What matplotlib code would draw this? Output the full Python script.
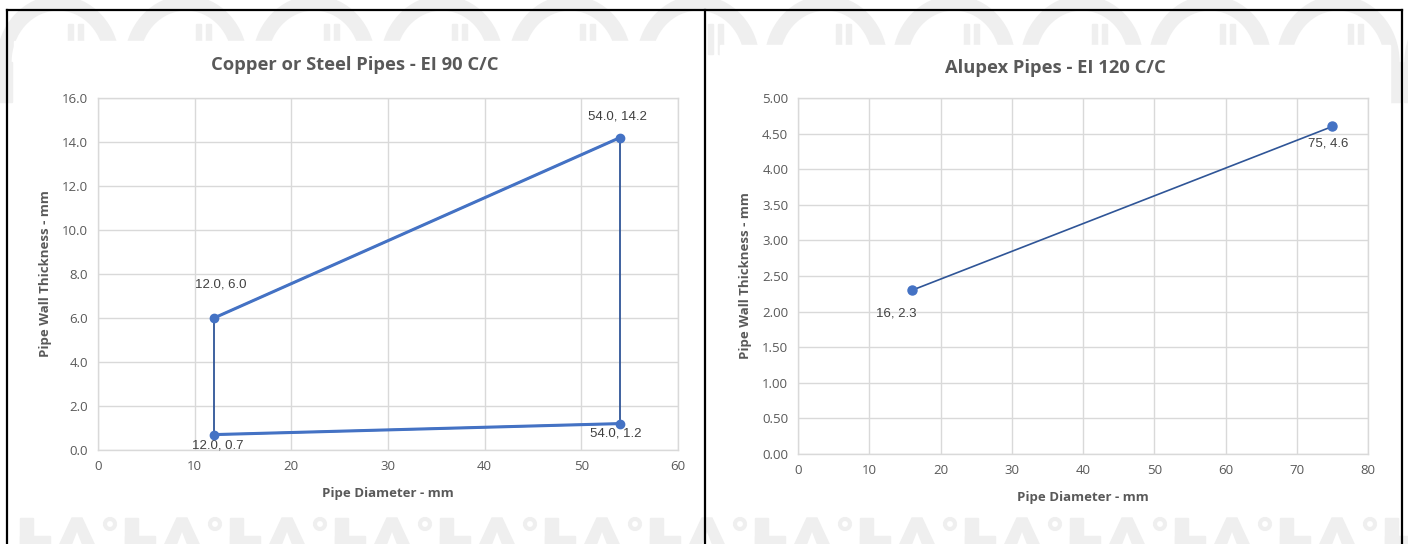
import matplotlib.pyplot as plt
from matplotlib.patches import Rectangle, Arc, Polygon
from matplotlib.lines import Line2D
import numpy as np

# Copper / steel envelope: corner points of the approved zone
cu_diam = [12.0, 12.0, 54.0, 54.0]
cu_wall = [0.7, 6.0, 14.2, 1.2]
cu_offsets = [(3, -8), (5, 24), (-2, 15), (-3, -7)]

# Alupex range
alu_diam = [16, 75]
alu_wall = [2.3, 4.6]
alu_offsets = [(-11, -17), (-3, -12)]

W, H = 1408, 544
BLUE = '#4472C4'
DARK_BLUE = '#2F5597'
TXT = '#595959'
GRID = '#D9D9D9'
WM = '#EFEFEF'
FONT = 'Open Sans'
LABEL_FONT = 'Liberation Sans'


def fx(px):
    return px / W


def fy(py):
    return 1 - py / H


fig = plt.figure(figsize=(W / 100, H / 100), dpi=100)
fig.patch.set_facecolor('white')

# faint background pattern behind the chart panels (y axis points down)
bg = fig.add_axes([0, 0, 1, 1], zorder=-10)
bg.set_xlim(0, W)
bg.set_ylim(H, 0)
bg.axis('off')
for cx in np.arange(58, W + 100, 128):
    bg.add_patch(Arc((cx, 62), 108, 118, theta1=180, theta2=360, color=WM, lw=11))
    bg.add_patch(Rectangle((cx - 54 - 8, 62), 16, 40, color=WM))
    bg.add_patch(Rectangle((cx + 54 - 8, 62), 16, 40, color=WM))
    bg.add_patch(Rectangle((cx + 10, 24), 5, 30, color=WM))
    bg.add_patch(Rectangle((cx + 20, 24), 5, 30, color=WM))
# letter-like blocks along the bottom edge
for lx in np.arange(20, W, 105):
    bg.add_patch(Rectangle((lx, 518), 13, 30, color=WM))
    bg.add_patch(Rectangle((lx, 536), 30, 10, color=WM))
    bg.add_patch(Polygon([(lx + 38, 548), (lx + 52, 518), (lx + 62, 518),
                          (lx + 76, 548), (lx + 64, 548), (lx + 57, 530),
                          (lx + 50, 548)], closed=True, color=WM))
    bg.add_patch(Arc((lx + 90, 524), 10, 10, color=WM, lw=3))

# white chart panels
fig.patches.append(Rectangle((fx(14), fy(515)), fx(697 - 14), (515 - 41) / H,
                             transform=fig.transFigure, color='white', zorder=-5))
fig.patches.append(Rectangle((fx(720), fy(515)), fx(1390 - 720), (515 - 45) / H,
                             transform=fig.transFigure, color='white', zorder=-5))

# black frame around both charts
for xs, ys in [((7, 1402), (9.5, 9.5)), ((7, 7), (9.5, H)),
               ((705, 705), (9.5, H)), ((1402, 1402), (9.5, H))]:
    fig.add_artist(Line2D([fx(x) for x in xs], [fy(y) for y in ys],
                          transform=fig.transFigure, color='black', lw=1.6))


def style_axes(ax, xmax, ymax, ystep, yfmt):
    ax.set_xlim(0, xmax)
    ax.set_ylim(0, ymax)
    ax.set_xticks(np.arange(0, xmax + 1, 10))
    yt = np.arange(0, ymax + ystep / 2, ystep)
    ax.set_yticks(yt)
    ax.set_yticklabels([yfmt.format(v) for v in yt])
    ax.grid(True, color=GRID, lw=1)
    ax.set_axisbelow(True)
    for s in ax.spines.values():
        s.set_color(GRID)
        s.set_linewidth(1)
    ax.tick_params(length=0, pad=7, labelsize=9.5, labelcolor=TXT)
    for lbl in ax.get_xticklabels() + ax.get_yticklabels():
        lbl.set_family(FONT)
    ax.set_xlabel('Pipe Diameter - mm', fontsize=9.5, fontweight='bold',
                  color=TXT, family=FONT, labelpad=10)
    ax.set_ylabel('Pipe Wall Thickness - mm', fontsize=9.5, fontweight='bold',
                  color=TXT, family=FONT, labelpad=7)
    ax.patch.set_alpha(0)


# left chart
ax1 = fig.add_axes([fx(98), fy(450), fx(678 - 98), (450 - 98) / H])
style_axes(ax1, 60, 16, 2, '{:.1f}')
ax1.set_title('Copper or Steel Pipes - EI 90 C/C', fontsize=13.2, fontweight='bold',
              color=TXT, family=FONT, pad=20, x=0.443)
# closed outline of the zone
ax1.plot(cu_diam + cu_diam[:1], cu_wall + cu_wall[:1], color=DARK_BLUE, lw=1.3,
         zorder=2)
# upper and lower limits drawn heavier
ax1.plot(cu_diam[1:3], cu_wall[1:3], color=BLUE, lw=2.2, zorder=3)
ax1.plot([cu_diam[0], cu_diam[3]], [cu_wall[0], cu_wall[3]], color=BLUE, lw=2.2,
         zorder=3)
ax1.plot(cu_diam, cu_wall, 'o', color=BLUE, ms=6, zorder=4)
for x, y, off in zip(cu_diam, cu_wall, cu_offsets):
    ax1.annotate(f'{x:.1f}, {y:.1f}', (x, y), xytext=off, textcoords='offset points',
                 ha='center', va='center', fontsize=9.5, color='#404040',
                 family=LABEL_FONT)

# right chart
ax2 = fig.add_axes([fx(798), fy(454), fx(1368 - 798), (454 - 98) / H])
style_axes(ax2, 80, 5, 0.5, '{:.2f}')
ax2.set_title('Alupex Pipes - EI 120 C/C', fontsize=13.2, fontweight='bold',
              color=TXT, family=FONT, pad=18, x=0.451)
ax2.plot(alu_diam, alu_wall, color=DARK_BLUE, lw=1.2, zorder=2)
ax2.plot(alu_diam, alu_wall, 'o', color=BLUE, ms=6.5, zorder=3)
for x, y, off in zip(alu_diam, alu_wall, alu_offsets):
    ax2.annotate(f'{x:.0f}, {y:.1f}', (x, y), xytext=off, textcoords='offset points',
                 ha='center', va='center', fontsize=9.5, color='#404040',
                 family=LABEL_FONT)

plt.savefig('out.png', dpi=100)
